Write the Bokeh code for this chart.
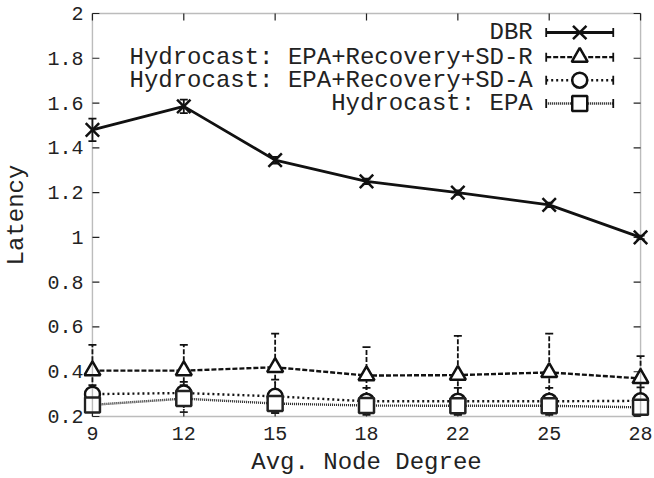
import math
from bokeh.plotting import figure
from bokeh.models import Range1d, FixedTicker, Whisker, TeeHead, ColumnDataSource, Label, BoxAnnotation
from bokeh.embed import file_html
from bokeh.resources import INLINE

# ---- data ----
degrees = ["9", "12", "15", "18", "22", "25", "28"]
dbr = [1.48, 1.585, 1.345, 1.25, 1.20, 1.145, 1.0]
dbr_err = [0.05, 0.03, 0.015, 0.012, 0.01, 0.01, 0.008]
sdr = [0.405, 0.405, 0.42, 0.383, 0.385, 0.397, 0.37]
sdr_err = [0.115, 0.115, 0.15, 0.127, 0.175, 0.173, 0.10]
sda = [0.30, 0.305, 0.29, 0.268, 0.268, 0.268, 0.27]
sda_err = [0.04, 0.05, 0.075, 0.06, 0.06, 0.06, 0.06]
epa = [0.252, 0.28, 0.258, 0.249, 0.248, 0.248, 0.241]
epa_err = [0.03, 0.06, 0.04, 0.03, 0.03, 0.03, 0.03]
y_ticks = [0.2, 0.4, 0.6, 0.8, 1.0, 1.2, 1.4, 1.6, 1.8, 2.0]
y_tick_labels = ["0.2", "0.4", "0.6", "0.8", "1", "1.2", "1.4", "1.6", "1.8", "2"]

labels = ["DBR", "Hydrocast: EPA+Recovery+SD-R",
          "Hydrocast: EPA+Recovery+SD-A", "Hydrocast: EPA"]

FONT = "Liberation Mono"
INK = "#222222"
xs = list(range(len(degrees)))

# ---- layout (pixels) ----
W, H = 654, 478
BOX_L, BOX_R, BOX_T, BOX_B = 88, 640, 13, 417
M = 9  # extra frame margin so edge markers are not clipped
y0, y1 = y_ticks[0], y_ticks[-1]
px_x = (BOX_R - BOX_L) / (xs[-1] - xs[0])
px_y = (BOX_B - BOX_T) / (y1 - y0)
TICK = 7

p = figure(width=W, height=H, output_backend="svg", toolbar_location=None,
           x_range=Range1d(xs[0] - M / px_x, xs[-1] + M / px_x),
           y_range=Range1d(y0 - M / px_y, y1 + M / px_y),
           min_border_left=BOX_L - M, min_border_right=W - BOX_R - M,
           min_border_top=BOX_T - M, min_border_bottom=H - BOX_B - M,
           x_axis_label="Avg. Node Degree", y_axis_label="Latency")
p.grid.visible = False
p.background_fill_color = "white"
p.border_fill_color = "white"
p.outline_line_color = None

p.xaxis.ticker = FixedTicker(ticks=xs)
p.yaxis.ticker = FixedTicker(ticks=y_ticks)
p.xaxis.major_label_overrides = {i: d for i, d in zip(xs, degrees)}
p.yaxis.major_label_overrides = {v: s for v, s in zip(y_ticks, y_tick_labels)}

for ax in (p.xaxis[0], p.yaxis[0]):
    ax.axis_line_color = None
    ax.major_tick_line_color = None
    ax.minor_tick_line_color = None
    ax.major_tick_in = 0
    ax.major_tick_out = 0
    ax.major_label_text_font = FONT
    ax.major_label_text_font_size = "20px"
    ax.major_label_text_color = INK
    ax.axis_label_text_font = FONT
    ax.axis_label_text_font_size = "24px"
    ax.axis_label_text_font_style = "normal"
    ax.axis_label_text_color = INK
p.yaxis.major_label_standoff = 0
p.yaxis.axis_label_standoff = 14
p.xaxis.major_label_standoff = 1
p.xaxis.axis_label_standoff = 6

# plot box and inward ticks (on all four sides, gnuplot style)
p.add_layout(BoxAnnotation(left=xs[0], right=xs[-1], bottom=y0, top=y1,
                           fill_color=None, line_color=INK, line_width=1.4))
tx, ty = TICK / px_x, TICK / px_y
p.segment(x0=xs + xs, y0=[y0] * len(xs) + [y1] * len(xs),
          x1=xs + xs, y1=[y0 + ty] * len(xs) + [y1 - ty] * len(xs),
          line_color=INK, line_width=1.2)
p.segment(x0=[xs[0]] * len(y_ticks) + [xs[-1]] * len(y_ticks), y0=y_ticks + y_ticks,
          x1=[xs[0] + tx] * len(y_ticks) + [xs[-1] - tx] * len(y_ticks), y1=y_ticks + y_ticks,
          line_color=INK, line_width=1.2)


def series(vals, errs, dash, width, marker, msize, color="#111111"):
    src = ColumnDataSource(dict(x=xs, y=vals,
                                lo=[v - e for v, e in zip(vals, errs)],
                                hi=[v + e for v, e in zip(vals, errs)]))
    w = Whisker(base="x", upper="hi", lower="lo", source=src,
                line_color=color, line_width=1.8, line_dash=dash,
                upper_head=TeeHead(size=8, line_color=color, line_width=1.8),
                lower_head=TeeHead(size=8, line_color=color, line_width=1.8))
    p.add_layout(w)
    p.line("x", "y", source=src, line_color=color, line_width=width,
           line_dash=dash)
    p.scatter("x", "y", source=src, marker=marker, size=msize,
              line_color=color, line_width=2.5, fill_color="white")


series(dbr, dbr_err, "solid", 2.8, "x", 19)
series(sdr, sdr_err, "5 2", 2.4, "triangle", 16)
series(sda, sda_err, "2 3", 2.4, "circle", 15)
series(epa, epa_err, "1 1", 2.4, "square", 15, color="#222222")

# ---- legend (text right-aligned, sample to the right) ----
leg_y = [1.915, 1.805, 1.702, 1.598]
leg_x0, leg_x1, leg_xt = 4.967, 5.701, 4.82
styles = [("solid", 2.8, "x", 19), ("5 2", 2.4, "triangle", 16),
          ("2 3", 2.4, "circle", 15), ("1 1", 2.4, "square", 15)]
for lab, yy, (dash, lw, mk, ms) in zip(labels, leg_y, styles):
    p.add_layout(Label(x=leg_xt, y=yy, text=lab, text_align="right",
                       text_baseline="middle", text_font=FONT,
                       text_font_size="24px", text_color=INK))
    p.line([leg_x0, leg_x1], [yy, yy], line_color="#111111", line_width=lw,
           line_dash=dash)
    p.scatter([leg_x0, leg_x1], [yy, yy], marker="dash", angle=math.pi / 2,
              size=9, line_color="#111111", line_width=1.8)
    p.scatter([(leg_x0 + leg_x1) / 2], [yy], marker=mk, size=ms,
              line_color="#111111", line_width=2.5, fill_color="white")

open("out.html", "w").write(file_html(p, INLINE))
